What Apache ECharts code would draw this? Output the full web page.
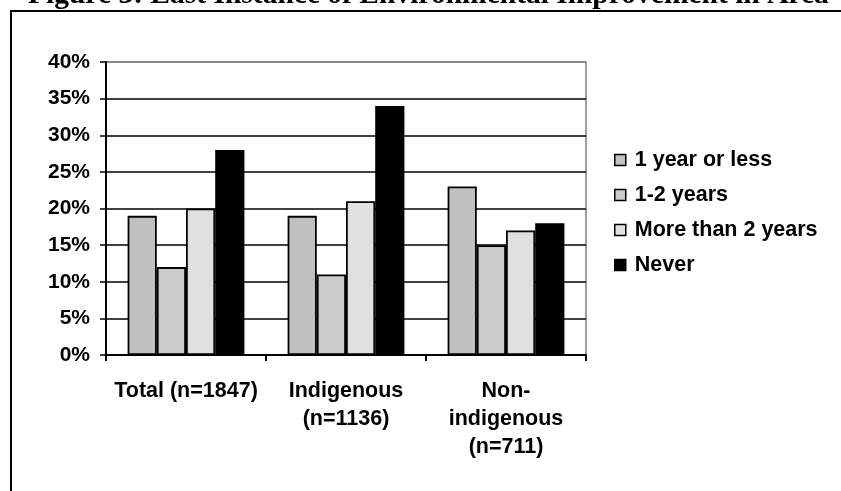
<!DOCTYPE html>
<html>
<head>
<meta charset="utf-8">
<script src="https://cdn.jsdelivr.net/npm/echarts@6/dist/echarts.min.js"></script>
<style>
html,body{margin:0;padding:0;background:#fff;}
#chart{width:841px;height:491px;}
</style>
</head>
<body>
<div id="chart"></div>
<script>
const titleText = 'Figure 3: Last Instance of Environmental Improvement in Area';
const categories = ['Total (n=1847)', 'Indigenous\n(n=1136)', 'Non-\nindigenous\n(n=711)'];
const seriesNames = ['1 year or less', '1-2 years', 'More than 2 years', 'Never'];
const oneYearOrLess = [19, 19, 23];
const oneToTwoYears = [12, 11, 15];
const moreThanTwoYears = [20, 21, 17];
const never = [28, 34, 18];
const yTicks = [0, 5, 10, 15, 20, 25, 30, 35, 40];

const seriesValues = [oneYearOrLess, oneToTwoYears, moreThanTwoYears, never];
const colors = ['#c0c0c0', '#cccccc', '#e0e0e0', '#000000'];
const font = '"Liberation Sans", Arial, sans-serif';

const chart = echarts.init(document.getElementById('chart'), null, {renderer: 'canvas'});
const gridColors = yTicks.map((t, i) => i === yTicks.length - 1 ? '#808080' : '#000000');

chart.setOption({
  animation: false,
  backgroundColor: '#ffffff',
  graphic: [
    {type: 'rect', z: 100, shape: {x: 11, y: 11, width: 900, height: 600},
     style: {fill: 'none', stroke: '#000', lineWidth: 2}},
    {type: 'text', z: 100, left: 28, top: -20,
     style: {text: titleText, font: 'bold 29.5px "Liberation Serif", "Times New Roman", serif', fill: '#000'}}
  ],
  grid: {left: 106, right: 255, top: 62, bottom: 136, show: true, borderColor: '#808080', borderWidth: 1.5, backgroundColor: 'transparent'},
  legend: {
    orient: 'vertical', left: 609, top: 144, itemGap: 13,
    itemWidth: 11, itemHeight: 11, icon: 'rect',
    data: seriesNames,
    textStyle: {fontFamily: font, fontWeight: 'bold', fontSize: 21.5, color: '#000', padding: [0, 0, 0, 4]},
    itemStyle: {borderColor: '#000', borderWidth: 1.5}
  },
  xAxis: {
    type: 'category', data: categories,
    axisLine: {lineStyle: {color: '#000', width: 2}},
    axisTick: {show: true, length: 6, lineStyle: {color: '#000', width: 2}},
    axisLabel: {fontFamily: font, fontWeight: 'bold', fontSize: 21.5, color: '#000', margin: 22, lineHeight: 28, interval: 0}
  },
  yAxis: {
    type: 'value', min: 0, max: 40, interval: 5,
    axisLine: {show: true, lineStyle: {color: '#000', width: 2}},
    axisTick: {show: true, length: 6, lineStyle: {color: '#000', width: 1.5}},
    axisLabel: {formatter: '{value}%', fontFamily: font, fontWeight: 'bold', fontSize: 21, color: '#000', margin: 16},
    splitLine: {show: true, lineStyle: {color: gridColors, width: 1.5}}
  },
  series: seriesNames.map((name, i) => ({
    name: name, type: 'bar', data: seriesValues[i],
    barGap: '0%', barCategoryGap: '27%',
    itemStyle: {color: colors[i], borderColor: '#000', borderWidth: 1.8}
  }))
});
</script>
</body>
</html>
